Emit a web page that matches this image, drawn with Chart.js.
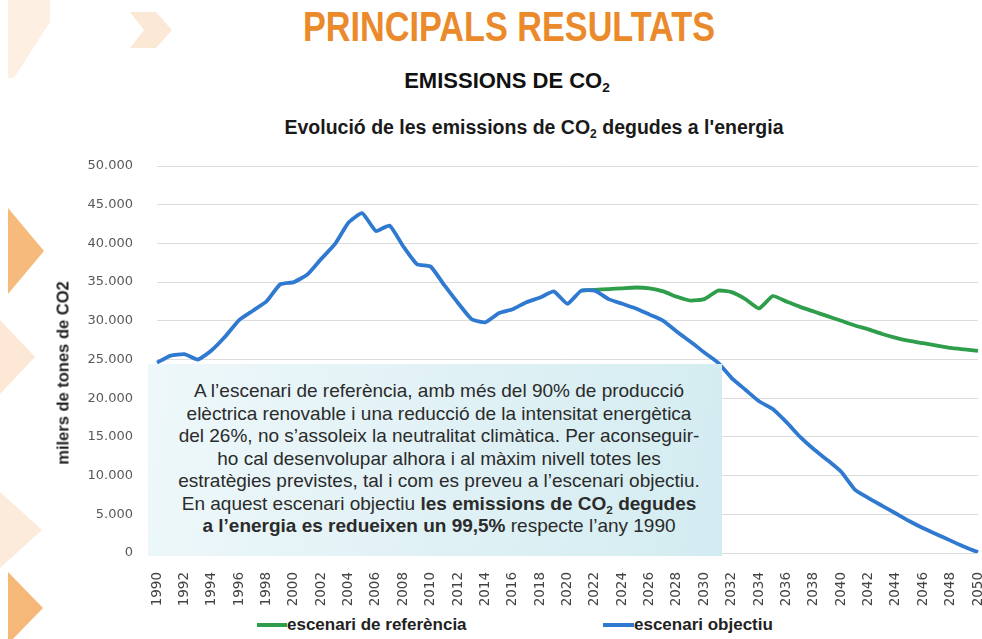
<!DOCTYPE html>
<html>
<head>
<meta charset="utf-8">
<script src="https://cdn.jsdelivr.net/npm/chart.js@4.4.1/dist/chart.umd.min.js"></script>
<style>
html,body{margin:0;padding:0;background:#fff;}
body{width:982px;height:639px;position:relative;overflow:hidden;font-family:"Liberation Sans",Arial,sans-serif;}
.deco{position:absolute;left:0;top:0;width:982px;height:639px;pointer-events:none;}
.txt{position:absolute;white-space:nowrap;}
#t1{left:509px;top:6px;font-size:42px;line-height:42px;font-weight:bold;color:#EA8A2B;transform:translateX(-50%) scaleX(0.815);}
#t2{left:507px;top:70px;font-size:22px;line-height:22px;font-weight:bold;color:#111;transform:translateX(-50%);}
#t3{left:534px;top:117px;font-size:19.5px;line-height:20px;font-weight:bold;color:#1a1a1a;transform:translateX(-50%);}
sub{font-size:0.62em;vertical-align:-0.3em;line-height:0;}
#chartWrap{position:absolute;left:0;top:132px;width:982px;height:480px;}
#ytitle{left:63px;top:373px;font-size:16.5px;font-weight:bold;color:#222;transform:translate(-50%,-50%) rotate(-90deg);}
#box{position:absolute;left:148px;top:364px;width:574px;height:192px;background:linear-gradient(100deg,#eef8fa 0%,#e2f2f6 45%,#d3ecf1 100%);z-index:2;
  text-align:center;font-size:19px;line-height:22.5px;color:#2b2b2b;box-sizing:border-box;padding-top:16px;padding-left:8px;white-space:nowrap;}
.leg{position:absolute;top:615.5px;font-size:17px;line-height:17px;font-weight:bold;color:#222;white-space:nowrap;}
.legline{position:absolute;top:623px;height:4px;}
</style>
</head>
<body>
<svg class="deco" viewBox="0 0 982 639">
  <polygon points="8,0 50,0 50,22 14,78 8,78" fill="#fcecdc" opacity="0.8"/>
  <polygon points="130,12 156,12 172,30 156,48 130,48 144,30" fill="#fbe3cb" opacity="0.8"/>
  <polygon points="8,208 44,251 8,294" fill="#f5ba7c"/>
  <polygon points="0,320 35,357 0,394" fill="#fce8d5"/>
  <polygon points="0,492 42,530 0,568" fill="#fcebdb"/>
  <polygon points="8,572 43,608 8,644" fill="#f5b878"/>
</svg>

<div id="t1" class="txt">PRINCIPALS RESULTATS</div>
<div id="t2" class="txt">EMISSIONS DE CO<sub>2</sub></div>
<div id="t3" class="txt">Evolució de les emissions de CO<sub>2</sub> degudes a l'energia</div>

<div id="chartWrap"><canvas id="c" width="982" height="480"></canvas></div>
<div id="ytitle" class="txt">milers de tones de CO2</div>

<div id="box">A l’escenari de referència, amb més del 90% de producció<br>elèctrica renovable i una reducció de la intensitat energètica<br>del 26%, no s’assoleix la neutralitat climàtica. Per aconseguir-<br>ho cal desenvolupar alhora i al màxim nivell totes les<br>estratègies previstes, tal i com es preveu a l’escenari objectiu.<br>En aquest escenari objectiu <b>les emissions de CO<sub>2</sub> degudes</b><br><b>a l’energia es redueixen un 99,5%</b> respecte l’any 1990</div>

<div class="legline" style="left:257px;width:30px;background:#2E9E4B;"></div>
<div class="leg" style="left:287px;">escenari de referència</div>
<div class="legline" style="left:603px;width:31px;background:#2F7AD0;"></div>
<div class="leg" style="left:634px;">escenari objectiu</div>

<script>
const years = ['1990','1991','1992','1993','1994','1995','1996','1997','1998','1999',
  '2000','2001','2002','2003','2004','2005','2006','2007','2008','2009',
  '2010','2011','2012','2013','2014','2015','2016','2017','2018','2019',
  '2020','2021','2022','2023','2024','2025','2026','2027','2028','2029',
  '2030','2031','2032','2033','2034','2035','2036','2037','2038','2039',
  '2040','2041','2042','2043','2044','2045','2046','2047','2048','2049','2050'];

const xTickLabels = ['1990','1992','1994','1996','1998','2000','2002','2004','2006','2008',
  '2010','2012','2014','2016','2018','2020','2022','2024','2026','2028','2030','2032',
  '2034','2036','2038','2040','2042','2044','2046','2048','2050'];

const yTickValues = [0,5000,10000,15000,20000,25000,30000,35000,40000,45000,50000];
const yTickLabels = ['0','5.000','10.000','15.000','20.000','25.000','30.000','35.000','40.000','45.000','50.000'];

const escenariObjectiu = [24600,25500,25700,25000,26200,28000,30100,31300,32500,34700,
  35000,36000,38000,39900,42700,43900,41600,42300,39600,37300,
  37000,34600,32300,30200,29800,31000,31500,32400,33000,33800,
  32200,33900,33900,32800,32200,31600,30800,30000,28600,27300,
  25900,24600,22600,21100,19600,18600,16900,15000,13400,12000,
  10500,8200,7100,6100,5100,4100,3200,2400,1600,800,100];

const escenariReferencia = [null,null,null,null,null,null,null,null,null,null,
  null,null,null,null,null,null,null,null,null,null,
  null,null,null,null,null,null,null,null,null,null,
  null,33900,34000,34100,34200,34300,34200,33800,33100,32600,
  32800,33900,33700,32800,31600,33200,32500,31800,31200,30600,
  30000,29400,28900,28300,27800,27400,27100,26800,26500,26300,26100];

const seriesNames = ['escenari objectiu','escenari de referència'];

new Chart(document.getElementById('c'), {
  type: 'line',
  data: {
    labels: years,
    datasets: [
      {label: seriesNames[0], data: escenariObjectiu, borderColor: '#2F7AD0', backgroundColor: '#2F7AD0',
       borderWidth: 3.8, pointRadius: 0, tension: 0.15, order: 1, spanGaps: false},
      {label: seriesNames[1], data: escenariReferencia, borderColor: '#2E9E4B', backgroundColor: '#2E9E4B',
       borderWidth: 3.8, pointRadius: 0, tension: 0.15, order: 2, spanGaps: false}
    ]
  },
  options: {
    responsive: false,
    animation: false,
    layout: {padding: {left: 0, right: 4, top: 34, bottom: 0}},
    plugins: {legend: {display: false}, tooltip: {enabled: false}},
    scales: {
      x: {
        type: 'category',
        offset: false,
        grid: {display: false},
        border: {display: false},
        ticks: {
          autoSkip: false, maxRotation: 90, minRotation: 90, padding: 11,
          color: '#444', font: {family: 'DejaVu Sans', size: 13.5},
          callback: function(v, i) { return xTickLabels.includes(years[i]) ? years[i] : ''; }
        },
        afterFit: function(s) { s.height = 59; s.paddingLeft = 0; s.paddingRight = 0; }
      },
      y: {
        min: 0, max: 50000,
        afterBuildTicks: function(s) { s.ticks = yTickValues.map(v => ({value: v})); },
        grid: {color: '#dcdcdc', lineWidth: 1, drawTicks: false},
        border: {display: false},
        ticks: {
          padding: 24, color: '#595959', font: {family: 'DejaVu Sans', size: 13},
          callback: function(v) { const k = yTickValues.indexOf(v); return k >= 0 ? yTickLabels[k] : ''; }
        },
        afterFit: function(s) { s.width = 157; s.paddingTop = 0; s.paddingBottom = 0; }
      }
    }
  }
});
</script>
</body>
</html>
